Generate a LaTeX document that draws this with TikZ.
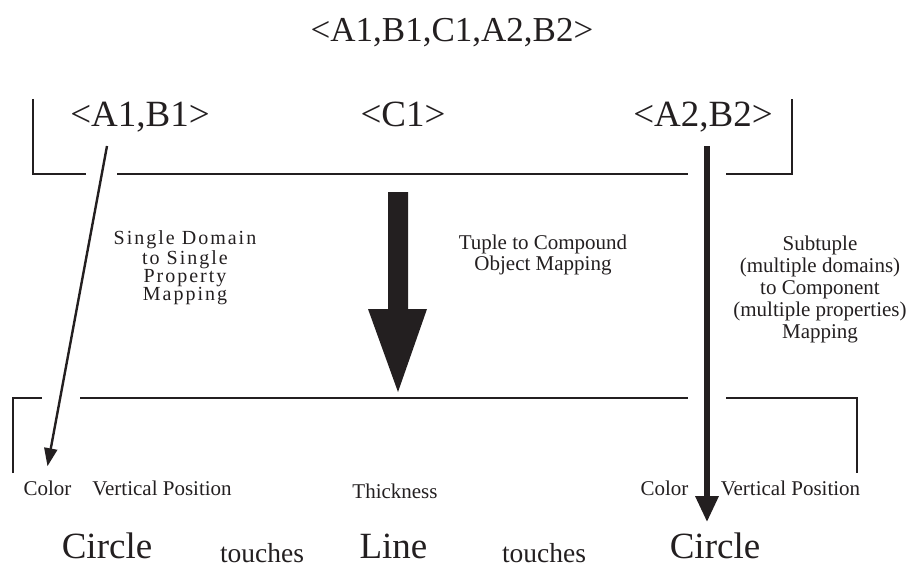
\documentclass[tikz,border=0pt]{standalone}
\usepackage{fontspec}
\setmainfont{Liberation Serif}
\newfontfamily\spacedfont[LetterSpace=10]{Liberation Serif}
\usetikzlibrary{arrows.meta}
\definecolor{ink}{RGB}{35,31,32}
\tikzset{
    common/.style={inner sep=0pt, anchor=base, text=ink},
    tuple/.style={common, font=\fontsize{37}{40}\selectfont},
    attr/.style={common, font=\fontsize{21}{24}\selectfont},
    shapename/.style={common, font=\fontsize{37}{40}\selectfont},
    relation/.style={common, font=\fontsize{27.5}{30}\selectfont},
    caption/.style={common, align=center, font=\fontsize{21}{22}\selectfont},
    bracket/.style={draw=ink, line width=2.6pt},
    thinmap/.style={draw=ink, line width=2.4pt, -{Triangle[length=18pt,width=13pt]}},
    thickmap/.style={draw=ink, line width=6pt, -{Triangle[length=26pt,width=22pt]}}
}
\begin{document}
\begin{tikzpicture}[x=1pt, y=-1pt]
          \useasboundingbox (0,0) rectangle (907,567);

          \path
              (452,42) node[tuple, font=\fontsize{35}{40}\selectfont] (all) {<A1,B1,C1,A2,B2>}
              (140,127) node[tuple] (a1b1) {<A1,B1>}
              (403,127) node[tuple] (c1) {<C1>}
              (703,127) node[tuple] (a2b2) {<A2,B2>};

          \draw[bracket] (33,99) -- (33,174) -- (86,174) (117,174) -- (688,174) (726,174) -- (792,174) -- (792,99);
          \draw[bracket] (13,473) -- (13,398) -- (42,398) (80,398) -- (688,398) (726,398) -- (857,398) -- (857,473);

          \path
              (185,300) node[caption, font=\fontsize{20}{18}\spacedfont] (single-cap) {Single Domain\\to Single\\Property\\Mapping}
              (543,270) node[caption, font=\fontsize{21}{19}\selectfont] (tuple-cap) {Tuple to Compound\\Object Mapping}
              (820,338) node[caption] (sub-cap) {Subtuple\\(multiple domains)\\to Component\\(multiple properties)\\Mapping};

          \path
              (47.5,495) node[attr] (color-l) {Color}
              (162,495) node[attr] (vpos-l) {Vertical Position}
              (395,498) node[attr] (thick) {Thickness}
              (664.5,495) node[attr] (color-r) {Color}
              (790.5,495) node[attr] (vpos-r) {Vertical Position};

          \path
              (107,558) node[shapename] (circle-l) {Circle}
              (262,562) node[relation] (touches-l) {touches}
              (393.5,558) node[shapename] (line) {Line}
              (544,562) node[relation] (touches-r) {touches}
              (715,558) node[shapename] (circle-r) {Circle};

          \coordinate (a1b1-foot) at (107,146);
          \coordinate (a2b2-foot) at (707,146);

          \draw[thinmap] (a1b1-foot) -- ([yshift=14pt]color-l.north);
          \draw[thickmap] (a2b2-foot) -- ([yshift=10pt]a2b2-foot |- circle-r.north);

          \fill[ink] (388,192) -- (408,192) -- (408,309) -- (427,309) -- (398,392) -- (368,309) -- (388,309) -- cycle;
\end{tikzpicture}
\end{document}
